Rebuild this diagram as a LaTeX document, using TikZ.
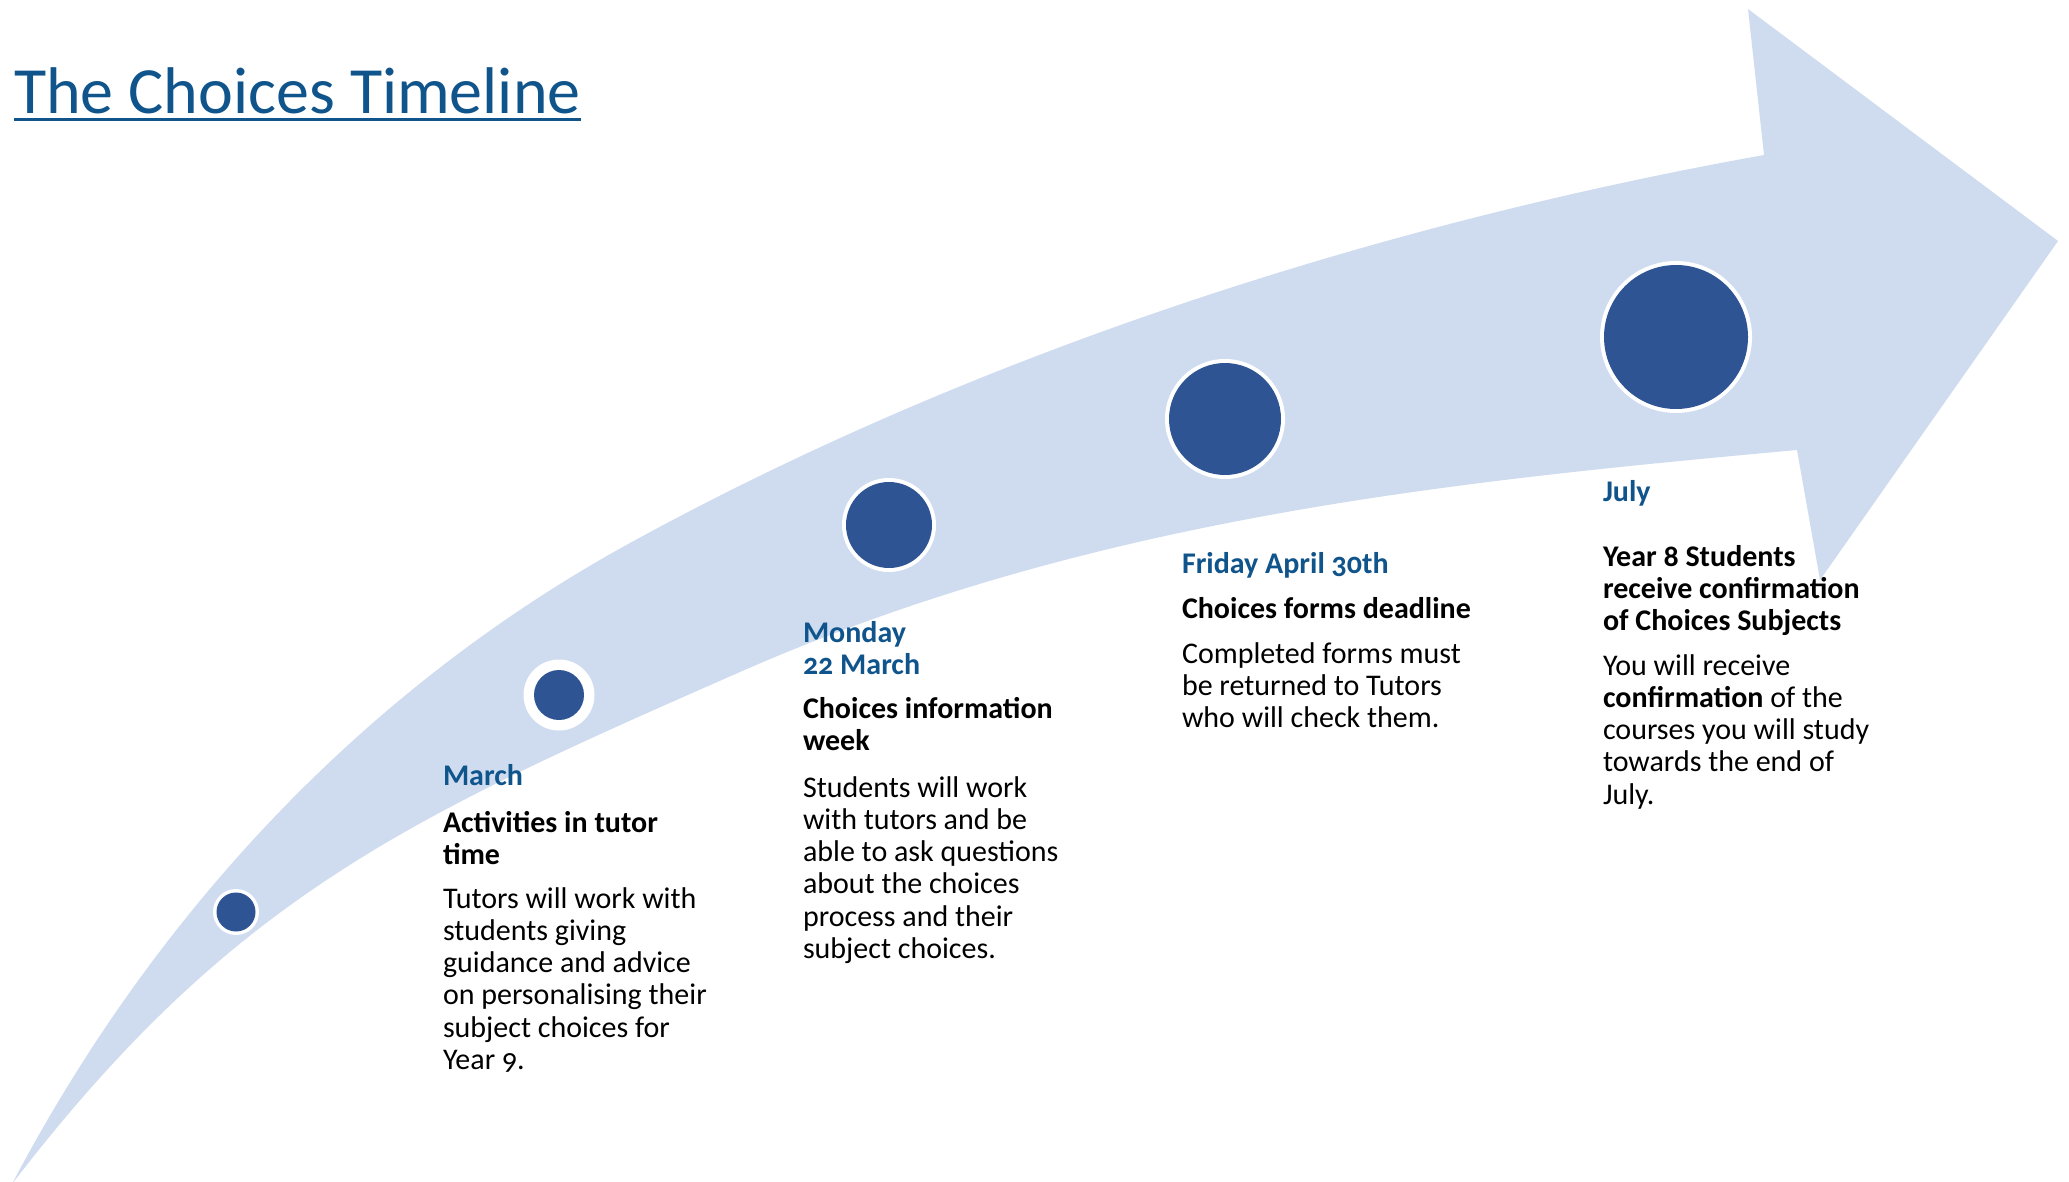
\documentclass[tikz,border=0pt]{standalone}
\usepackage{fontspec}
\setmainfont{Carlito}[Numbers=OldStyle]
\definecolor{bandblue}{RGB}{207,220,240}
\definecolor{dotblue}{RGB}{46,84,148}
\definecolor{titleblue}{RGB}{16,84,140}
\newcommand{\tblock}[1]{\vtop{\baselineskip=32.3pt\lineskiplimit=-1000pt\lineskip=0pt #1}}
\newcommand{\tline}[1]{\hbox{#1}}
\begin{document}
\begin{tikzpicture}[x=1pt,y=-1pt,
  txt/.style={anchor=base west, inner sep=0pt, outer sep=0pt, font=\fontsize{30}{32.3}\selectfont},
  datetxt/.style={txt, text=titleblue, font=\fontsize{30}{32.3}\selectfont\bfseries},
  headtxt/.style={txt, font=\fontsize{30}{32.3}\selectfont\bfseries},
  bodytxt/.style={txt},
  ringfill/.style={circle, fill=white, inner sep=0pt, minimum size=#1},
  dotfill/.style={circle, fill=dotblue, inner sep=0pt, minimum size=#1}]
\fill[white] (0,0) rectangle (2069,1182);
\useasboundingbox (0,0) rectangle (2069,1182);

% big curved arrow
\fill[bandblue] (12,1184) .. controls (163,897) and (380,680) .. (630,543)
  .. controls (980,351) and (1384,223) .. (1764,155)
  -- (1748,9) -- (2058,241) -- (1820,580) -- (1797,450)
  .. controls (1447,482) and (1090,518) .. (740,672)
  .. controls (410,817) and (233,896) .. (12,1184) -- cycle;

% title
\node[anchor=base west, inner sep=0pt, text=titleblue, font=\fontsize{66}{70}\selectfont] (title) at (14,114) {The Choices Timeline};
\draw[titleblue, line width=2.5pt] ([yshift=-5.5pt]title.base west) -- ([yshift=-5.5pt]title.base east);

% milestones
\node[ringfill=46pt] (r1) at (236,912) {};
\node[dotfill=39pt] (c1) at (r1) {};
\node[ringfill=71pt] (r2) at (559,695) {};
\node[dotfill=50pt] (c2) at (r2) {};
\node[ringfill=94pt] (r3) at (889,525) {};
\node[dotfill=86pt] (c3) at (r3) {};
\node[ringfill=120pt] (r4) at (1225,419) {};
\node[dotfill=112pt] (c4) at (r4) {};
\node[ringfill=152pt] (r5) at (1676,337) {};
\node[dotfill=144pt] (c5) at (r5) {};

% block 1
\node[datetxt] (d1) at (443,785) {March};
\node[headtxt] (h1) at (443,832) {\tblock{\tline{Activities in tutor}\tline{time}}};
\node[bodytxt] (b1) at (443,908) {\tblock{\tline{Tutors will work with}\tline{students giving}\tline{guidance and advice}\tline{on personalising their}\tline{subject choices for}\tline{Year 9.}}};

% block 2
\node[datetxt] (d2) at (803,642) {\tblock{\tline{Monday}\tline{22 March}}};
\node[headtxt] (h2) at (803,718) {\tblock{\tline{Choices information}\tline{week}}};
\node[bodytxt] (b2) at (803,797) {\tblock{\tline{Students will work}\tline{with tutors and be}\tline{able to ask questions}\tline{about the choices}\tline{process and their}\tline{subject choices.}}};

% block 3
\node[datetxt] (d3) at (1182,573) {Friday April 30th};
\node[headtxt] (h3) at (1182,618) {Choices forms deadline};
\node[bodytxt] (b3) at (1182,663) {\tblock{\tline{Completed forms must}\tline{be returned to Tutors}\tline{who will check them.}}};

% block 4
\node[datetxt] (d4) at (1603,501) {July};
\node[headtxt] (h4) at (1603,566) {\tblock{\tline{Year 8 Students}\tline{receive confirmation}\tline{of Choices Subjects}}};
\node[bodytxt] (b4) at (1603,675) {\tblock{\tline{You will receive}\tline{\textbf{confirmation} of the}\tline{courses you will study}\tline{towards the end of}\tline{July.}}};
\end{tikzpicture}
\end{document}
